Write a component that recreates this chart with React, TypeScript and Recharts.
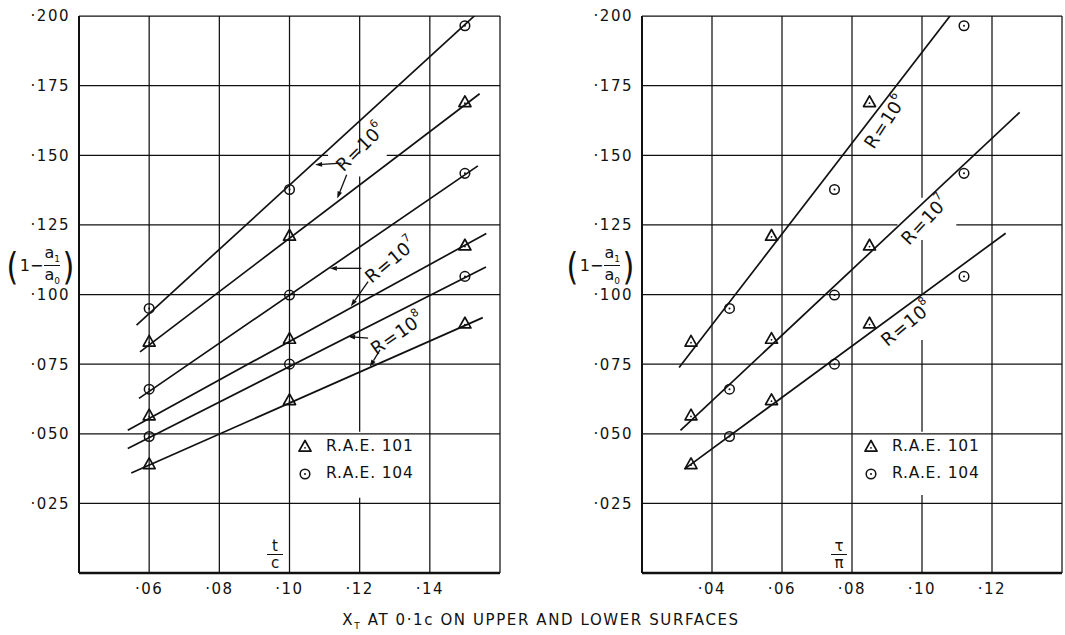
import React from 'react'
import { ComposedChart, Line, Scatter, XAxis, YAxis, ReferenceLine, ReferenceDot } from 'recharts'

// ---- data ----
// section positions: t/c on the left plot, tau/pi on the right plot
const tcValues = [0.06, 0.1, 0.15]
const tauRae101 = [0.034, 0.057, 0.085]
const tauRae104 = [0.045, 0.075, 0.112]

// (1 - a1/a0) at the three sections, per Reynolds number
const rae101R6 = [0.083, 0.121, 0.169]
const rae101R7 = [0.0565, 0.084, 0.1175]
const rae101R8 = [0.039, 0.062, 0.0895]
const rae104R6 = [0.095, 0.1377, 0.1965]
const rae104R7 = [0.066, 0.0998, 0.1435]
const rae104R8 = [0.049, 0.075, 0.1065]

// faired lines, start and end points
const leftFairX = [
  [0.0564, 0.1544],
  [0.0574, 0.1542],
  [0.0571, 0.1537],
  [0.0539, 0.1561],
  [0.0539, 0.156],
  [0.0549, 0.1551],
]
const leftFairY = [
  [0.089, 0.202],
  [0.0794, 0.1721],
  [0.0627, 0.1462],
  [0.0513, 0.1219],
  [0.0447, 0.1099],
  [0.0359, 0.0917],
]
const rightFairX = [
  [0.0306, 0.1091],
  [0.031, 0.1279],
  [0.0321, 0.1239],
]
const rightFairY = [
  [0.0738, 0.2018],
  [0.0512, 0.1654],
  [0.0373, 0.122],
]

const yTicks = [0.025, 0.05, 0.075, 0.1, 0.125, 0.15, 0.175, 0.2]
const leftXTicks = [0.06, 0.08, 0.1, 0.12, 0.14]
const rightXTicks = [0.04, 0.06, 0.08, 0.1, 0.12]
const seriesNames = ['R.A.E. 101', 'R.A.E. 104']

// annotation placement
const leftLabels = [
  { exp: '6', x: 0.1201, y: 0.153, angle: -45 },
  { exp: '7', x: 0.1287, y: 0.1124, angle: -40 },
  { exp: '8', x: 0.1306, y: 0.0861, angle: -35 },
]
const rightLabels = [
  { exp: '6', x: 0.0893, y: 0.1621, angle: -57 },
  { exp: '7', x: 0.1007, y: 0.1268, angle: -47 },
  { exp: '8', x: 0.0955, y: 0.0897, angle: -40 },
]
const leftArrows = [
  [0.1148, 0.1472, 0.1073, 0.1466],
  [0.1163, 0.143, 0.1136, 0.1345],
  [0.1205, 0.1094, 0.1115, 0.1094],
  [0.1224, 0.1046, 0.1175, 0.0958],
  [0.1224, 0.0843, 0.1167, 0.0849],
  [0.1258, 0.0801, 0.1229, 0.0741],
]

// breaks the draughtsman left in the grid
const leftHGaps: Record<string, number[][]> = { '0.15': [[0.111, 0.1277]] }
const leftVGaps: Record<string, number[][]> = { '0.12': [[0.1424, 0.1505], [0.027, 0.0507]] }
const rightHGaps: Record<string, number[][]> = { '0.125': [[0.093, 0.1098]] }
const rightVGaps: Record<string, number[][]> = {
  '0.1': [[0.1196, 0.1347], [0.0837, 0.1], [0.028, 0.0507]],
}

const FONT = '"DejaVu Sans", sans-serif'
const INK = '#111'

const zip = (xs: number[], ys: number[]) => xs.map((x, i) => ({ x, y: ys[i] }))

function pieces(lo: number, hi: number, gaps: number[][] = []) {
  const out: number[][] = []
  let a = lo
  gaps
    .slice()
    .sort((p, q) => p[0] - q[0])
    .forEach(([g0, g1]) => {
      if (g0 > a) out.push([a, g0])
      a = Math.max(a, g1)
    })
  if (a < hi) out.push([a, hi])
  return out
}

const TriMark = (p: any) => {
  const { cx, cy } = p
  return (
    <g>
      <polygon
        points={`${cx},${cy - 6.5} ${cx - 6},${cy + 4.2} ${cx + 6},${cy + 4.2}`}
        fill="none"
        stroke={INK}
        strokeWidth={1.7}
        strokeLinejoin="round"
      />
      <circle cx={cx} cy={cy + 0.8} r={0.9} fill={INK} />
    </g>
  )
}

const CircMark = (p: any) => {
  const { cx, cy } = p
  return (
    <g>
      <circle cx={cx} cy={cy} r={4.8} fill="none" stroke={INK} strokeWidth={1.5} />
      <circle cx={cx} cy={cy} r={1} fill={INK} />
    </g>
  )
}

const Arrow = (p: any) => {
  const { x1, y1, x2, y2 } = p
  const a = Math.atan2(y2 - y1, x2 - x1)
  const L = 7
  const W = 2.4
  const bx = x2 - L * Math.cos(a)
  const by = y2 - L * Math.sin(a)
  const nx = -Math.sin(a) * W
  const ny = Math.cos(a) * W
  return (
    <g>
      <line x1={x1} y1={y1} x2={bx} y2={by} stroke={INK} strokeWidth={1.3} />
      <polygon points={`${x2},${y2} ${bx + nx},${by + ny} ${bx - nx},${by - ny}`} fill={INK} />
    </g>
  )
}

const RLabel = (exp: string, angle: number) => (p: any) => {
  const { cx, cy } = p
  return (
    <text
      x={cx}
      y={cy}
      transform={`rotate(${angle} ${cx} ${cy})`}
      textAnchor="middle"
      dominantBaseline="central"
      fontFamily={FONT}
      fontSize={18}
      fill={INK}
    >
      R<tspan dx="1">=</tspan>
      <tspan dx="1">10</tspan>
      <tspan dy="-7" fontSize="11">
        {exp}
      </tspan>
    </text>
  )
}

const fmtY = (v: number) => '·' + v.toFixed(3).slice(2)
const fmtX = (v: number) => '·' + v.toFixed(2).slice(2)

const YTick = (p: any) => (
  <text
    x={p.x}
    y={p.y}
    dy="0.36em"
    textAnchor="end"
    fontFamily={FONT}
    fontSize={15}
    letterSpacing={1.5}
    fill={INK}
  >
    {fmtY(p.payload.value)}
  </text>
)

const XTick = (p: any) => (
  <text
    x={p.x}
    y={p.y}
    dy="0.71em"
    textAnchor="middle"
    fontFamily={FONT}
    fontSize={15}
    letterSpacing={1.5}
    fill={INK}
  >
    {fmtX(p.payload.value)}
  </text>
)

type PanelProps = {
  xDomain: number[]
  xTicks: number[]
  xRae101: number[]
  xRae104: number[]
  fairX: number[][]
  fairY: number[][]
  labels: { exp: string; x: number; y: number; angle: number }[]
  arrows: number[][]
  hGaps: Record<string, number[][]>
  vGaps: Record<string, number[][]>
  marginLeft: number
  marginRight: number
  width: number
}

const Panel = (props: PanelProps) => {
  const { xDomain, xTicks, hGaps, vGaps } = props
  const gridLines: React.ReactNode[] = []
  yTicks.forEach((t) => {
    pieces(xDomain[0], xDomain[1], hGaps[String(t)]).forEach(([a, b], i) =>
      gridLines.push(
        <ReferenceLine
          key={`h${t}-${i}`}
          segment={[
            { x: a, y: t },
            { x: b, y: t },
          ]}
          stroke={INK}
          strokeWidth={1.25}
        />
      )
    )
  })
  ;[...xTicks, xDomain[1]].forEach((t) => {
    pieces(0, 0.2, vGaps[String(t)]).forEach(([a, b], i) =>
      gridLines.push(
        <ReferenceLine
          key={`v${t}-${i}`}
          segment={[
            { x: t, y: a },
            { x: t, y: b },
          ]}
          stroke={INK}
          strokeWidth={1.25}
        />
      )
    )
  })

  const rae101 = [rae101R6, rae101R7, rae101R8].flatMap((ys) => zip(props.xRae101, ys))
  const rae104 = [rae104R6, rae104R7, rae104R8].flatMap((ys) => zip(props.xRae104, ys))

  return (
    <ComposedChart
      width={props.width}
      height={635}
      margin={{ top: 16, right: props.marginRight, left: props.marginLeft, bottom: 32 }}
    >
      <XAxis
        type="number"
        dataKey="x"
        domain={xDomain}
        ticks={xTicks}
        allowDataOverflow
        tick={<XTick />}
        tickLine={false}
        tickSize={0}
        tickMargin={10}
        height={30}
        axisLine={{ stroke: INK, strokeWidth: 2.5 }}
      />
      <YAxis
        type="number"
        dataKey="y"
        domain={[0, 0.2]}
        ticks={yTicks}
        allowDataOverflow
        tick={<YTick />}
        tickLine={false}
        tickSize={0}
        tickMargin={9}
        width={70}
        axisLine={{ stroke: INK, strokeWidth: 2 }}
      />
      {gridLines}
      {props.fairX.map((xs, i) => (
        <Line
          key={`f${i}`}
          data={zip(xs, props.fairY[i])}
          dataKey="y"
          stroke={INK}
          strokeWidth={1.7}
          dot={false}
          activeDot={false}
          isAnimationActive={false}
        />
      ))}
      <Scatter name={seriesNames[0]} data={rae101} dataKey="y" shape={TriMark} isAnimationActive={false} />
      <Scatter name={seriesNames[1]} data={rae104} dataKey="y" shape={CircMark} isAnimationActive={false} />
      {props.arrows.map((a, i) => (
        <ReferenceLine
          key={`a${i}`}
          segment={[
            { x: a[0], y: a[1] },
            { x: a[2], y: a[3] },
          ]}
          shape={Arrow}
        />
      ))}
      {props.labels.map((l, i) => (
        <ReferenceDot key={`l${i}`} x={l.x} y={l.y} r={1} shape={RLabel(l.exp, l.angle)} />
      ))}
    </ComposedChart>
  )
}

const txt: React.CSSProperties = { fontFamily: FONT, color: INK, position: 'absolute', lineHeight: 1 }

const YLabel = ({ left }: { left: number }) => (
  <div style={{ ...txt, left, top: 245, display: 'flex', alignItems: 'center', fontSize: 16 }}>
    <span style={{ fontSize: 38, transform: 'scaleX(0.8)' }}>(</span>
    <span>1−</span>
    <span style={{ display: 'inline-flex', flexDirection: 'column', alignItems: 'center', margin: '0 1px' }}>
      <span style={{ paddingBottom: 1 }}>
        a<sub style={{ fontSize: 9 }}>1</sub>
      </span>
      <span style={{ borderTop: `1.3px solid ${INK}`, paddingTop: 1 }}>
        a<sub style={{ fontSize: 9 }}>0</sub>
      </span>
    </span>
    <span style={{ fontSize: 38, transform: 'scaleX(0.8)' }}>)</span>
  </div>
)

const Frac = ({ left, top, num, den }: { left: number; top: number; num: string; den: string }) => (
  <div
    style={{
      ...txt,
      left: left - 9,
      top,
      width: 18,
      display: 'flex',
      flexDirection: 'column',
      alignItems: 'center',
      fontSize: 15,
    }}
  >
    <span>{num}</span>
    <span style={{ borderTop: `1.3px solid ${INK}`, width: 16, textAlign: 'center', paddingTop: 1 }}>{den}</span>
  </div>
)

const LegendBox = ({ left, top }: { left: number; top: number }) => (
  <div style={{ ...txt, left, top, fontSize: 15.5, letterSpacing: 0.8 }}>
    {seriesNames.map((n, i) => (
      <div key={n} style={{ display: 'flex', alignItems: 'center', height: 27 }}>
        <svg width={29} height={18}>
          {i === 0 ? <TriMark cx={8} cy={9} /> : <CircMark cx={8} cy={9} />}
        </svg>
        <span>{n}</span>
      </div>
    ))}
  </div>
)

export default function App() {
  return (
    <div style={{ position: 'absolute', left: 0, top: 0, width: 1065, height: 635, background: '#fff' }}>
      <div style={{ position: 'absolute', left: 0, top: 0 }}>
        <Panel
          xDomain={[0.04, 0.16]}
          xTicks={leftXTicks}
          xRae101={tcValues}
          xRae104={tcValues}
          fairX={leftFairX}
          fairY={leftFairY}
          labels={leftLabels}
          arrows={leftArrows}
          hGaps={leftHGaps}
          vGaps={leftVGaps}
          marginLeft={9}
          marginRight={20}
          width={520}
        />
      </div>
      <div style={{ position: 'absolute', left: 530, top: 0 }}>
        <Panel
          xDomain={[0.02, 0.14]}
          xTicks={rightXTicks}
          xRae101={tauRae101}
          xRae104={tauRae104}
          fairX={rightFairX}
          fairY={rightFairY}
          labels={rightLabels}
          arrows={[]}
          hGaps={rightHGaps}
          vGaps={rightVGaps}
          marginLeft={42}
          marginRight={3}
          width={535}
        />
      </div>
      <YLabel left={5} />
      <YLabel left={565} />
      <Frac left={275} top={539} num="t" den="c" />
      <Frac left={839} top={539} num="τ" den="π" />
      <LegendBox left={297} top={433} />
      <LegendBox left={863} top={433} />
      <div style={{ ...txt, left: 0, width: 1082, top: 613, textAlign: 'center', fontSize: 15, letterSpacing: 1.6 }}>
        X<sub style={{ fontSize: 9 }}>T</sub> AT 0·1c ON UPPER AND LOWER SURFACES
      </div>
    </div>
  )
}
